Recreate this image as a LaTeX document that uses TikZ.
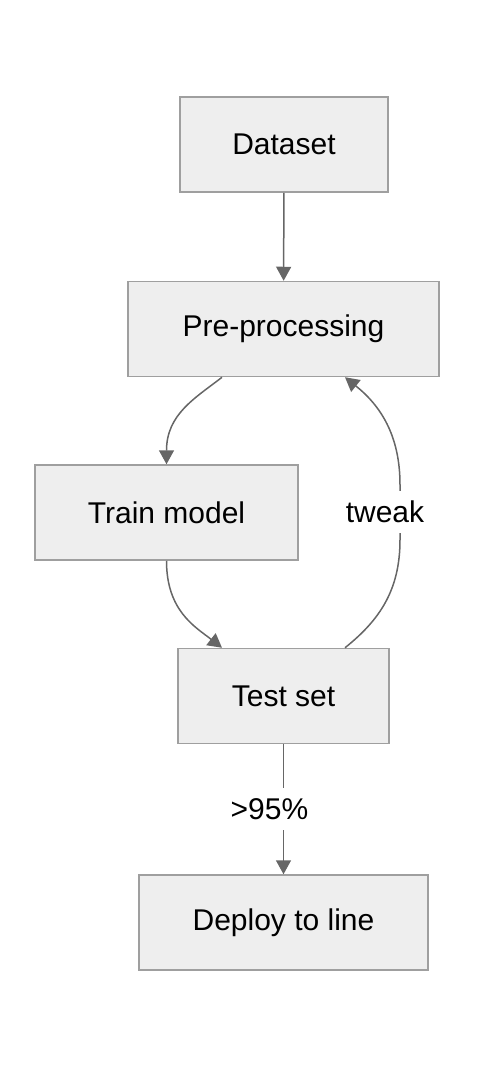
\documentclass[tikz,border=0pt]{standalone}
\usepackage{fontspec}
\setmainfont{Liberation Sans}
\usepackage{xcolor}
\usetikzlibrary{arrows.meta}
\definecolor{stagefill}{HTML}{EEEEEE}
\definecolor{stageline}{HTML}{9F9F9F}
\definecolor{flowline}{HTML}{666666}

\begin{document}
\begin{tikzpicture}[x=1pt, y=-1pt,
      every node/.style={font=\fontsize{30}{35}\selectfont},
      stage/.style={rectangle, draw=stageline, fill=stagefill, line width=1.5pt, minimum height=95pt},
      flow/.style={draw=flowline, line width=1.5pt, -{Triangle[length=14pt,width=15pt]}},
      cond/.style={fill=white, inner sep=0pt, minimum height=42pt}
      ]
      \useasboundingbox (0,0) rectangle (490,1068);
      \node[stage, minimum width=208pt] (dataset) at (284,144.5) {Dataset};
      \node[stage, minimum width=311pt] (pre) at (283.5,329) {Pre-processing};
      \node[stage, minimum width=263pt] (train) at (166.5,512.5) {Train model};
      \node[stage, minimum width=211pt] (test) at (283.5,696) {Test set};
      \node[stage, minimum width=289pt] (deploy) at (283.5,922.5) {Deploy to line};

      \draw[flow] (dataset) -- (pre);
      \draw[flow] ([xshift=-61.5pt]pre.south) .. controls +(-27,21) and +(0,-50) .. (train.north);
      \draw[flow] (train.south) .. controls +(0,50) and +(-27,-21) .. ([xshift=-61.5pt]test.north);
      \draw[flow] ([xshift=61.5pt]test.north) .. controls +(35,-28) and +(0,50) .. ++(55,-108)
        -- node[cond, xshift=-15pt] {tweak} ++(0,-55)
        .. controls +(0,-50) and +(35,28) .. ([xshift=61.5pt]pre.south);
      \draw[flow] (test) -- node[cond, xshift=-14pt] {>95\%} (deploy);
    \end{tikzpicture}
\end{document}
